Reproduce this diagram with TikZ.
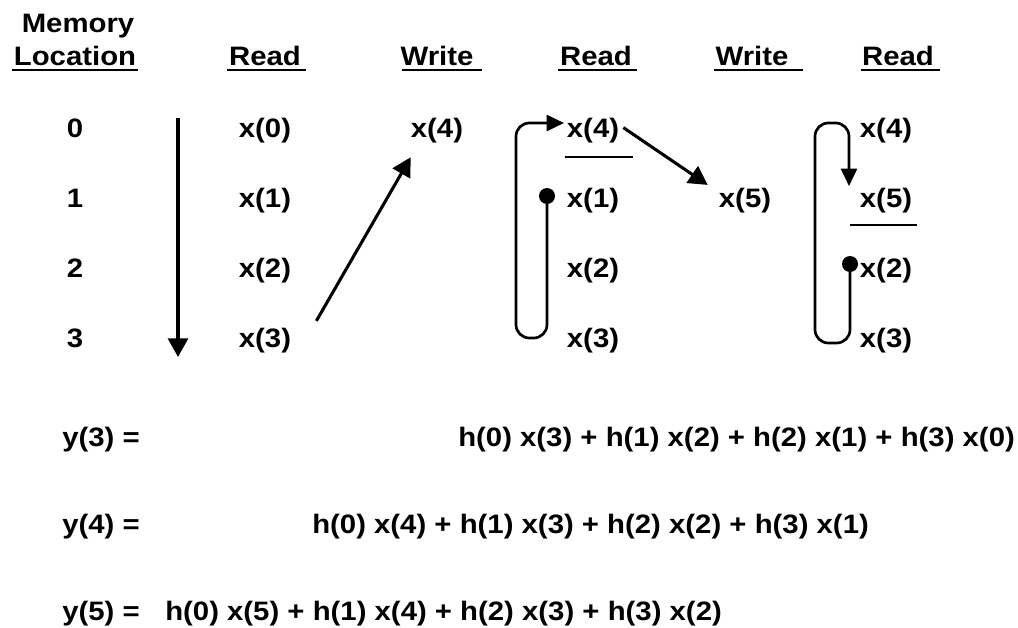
\documentclass[tikz,border=0pt]{standalone}
\usepackage{fontspec}
\setmainfont{Liberation Sans}[FakeStretch=1.1]
\usetikzlibrary{arrows.meta,calc,positioning}

\begin{document}
\begin{tikzpicture}[x=0.75pt,y=-0.75pt,
                every node/.style={inner sep=0pt,anchor=base,
                  font=\fontsize{20}{24}\selectfont\bfseries},
                eqn/.style={anchor=base west},
                uline/.style={line width=1.3pt},
                divider/.style={line width=0.8pt},
                arr/.style={line width=2.3pt,-{Triangle[length=14pt,width=15pt]}},
                wrap/.style={line width=2pt,rounded corners=10pt}
                ]
  \useasboundingbox (0,0) rectangle (1018,628);
  % column heads
  \node (hmem) at (78,32) {Memory};
  \node (hloc) at (75,65) {Location};
  \node (hra) at (265,65) {Read};
  \node (hwa) at (437,65) {Write};
  \node (hrb) at (596,65) {Read};
  \node (hwb) at (752,65) {Write};
  \node (hrc) at (898,65) {Read};
  \draw[uline] ($(hloc.base)+(-63,5)$) -- ($(hloc.base)+(63,5)$);
  \draw[uline] ($(hra.base)+(-38,5)$) -- ($(hra.base)+(41,5)$);
  \draw[uline] ($(hwa.base)+(-35,5)$) -- ($(hwa.base)+(45,5)$);
  \draw[uline] ($(hrb.base)+(-38,5)$) -- ($(hrb.base)+(41,5)$);
  \draw[uline] ($(hwb.base)+(-38,5)$) -- ($(hwb.base)+(51,5)$);
  \draw[uline] ($(hrc.base)+(-37,5)$) -- ($(hrc.base)+(42,5)$);

  % memory locations
  \node (loc0) at (75,137.5) {0};
  \node (loc1) at (75,207.5) {1};
  \node (loc2) at (75,277.5) {2};
  \node (loc3) at (75,347.5) {3};

  % first read
  \node (ra0) at (265,137.5) {x(0)};
  \node (ra1) at (265,207.5) {x(1)};
  \node (ra2) at (265,277.5) {x(2)};
  \node (ra3) at (265,347.5) {x(3)};
  \coordinate (vtop) at (178,118);
  \coordinate (vbot) at (178,357);
  \draw[arr] (vtop) -- (vbot);

  % first write
  \node (wa) at (437,137.5) {x(4)};
  \draw[arr] ($(ra3.north east)+(25,-7)$) -- ($(wa.south west)+(0,14)$);

  % second read
  \node (rb0) at (593,137.5) {x(4)};
  \node (rb1) at (593,207.5) {x(1)};
  \node (rb2) at (593,277.5) {x(2)};
  \node (rb3) at (593,347.5) {x(3)};
  \draw[divider] ($(rb0.base)+(-28,19.5)$) -- ($(rb0.base)+(40,19.5)$);
  \coordinate (dotb) at (547,196);
  \coordinate (tipb) at (564,123);
  \draw[wrap,-{Triangle[length=13pt,width=12pt]}] (dotb) -- (547,338) -- (516,338) -- (516,123) -- (tipb);
  \fill (dotb) circle (8);

  % second write
  \node (wb) at (745,207.5) {x(5)};
  \draw[arr] ($(rb0.east)+(4,-3)$) -- ($(wb.north west)+(-11,-3)$);

  % third read
  \node (rc0) at (886,137.5) {x(4)};
  \node (rc1) at (886,207.5) {x(5)};
  \node (rc2) at (886,277.5) {x(2)};
  \node (rc3) at (886,347.5) {x(3)};
  \draw[divider] ($(rc1.base)+(-36,17.5)$) -- ($(rc1.base)+(31,17.5)$);
  \coordinate (dotc) at (850,264);
  \coordinate (tipc) at (849,186);
  \draw[wrap,-{Triangle[length=13pt,width=12pt]}] (dotc) -- (850,343) -- (815,343) -- (815,123) -- (849,123) -- (tipc);
  \fill (dotc) circle (8);

  % outputs
  \node[eqn] (y3) at (62,446) {y(3) =};
  \node[eqn] (e3) at (458,446) {h(0) x(3) + h(1) x(2) + h(2) x(1) + h(3) x(0)};
  \node[eqn] (y4) at (62,533) {y(4) =};
  \node[eqn] (e4) at (312,533) {h(0) x(4) + h(1) x(3) + h(2) x(2) + h(3) x(1)};
  \node[eqn] (y5) at (62,620) {y(5) =};
  \node[eqn] (e5) at (165,620) {h(0) x(5) + h(1) x(4) + h(2) x(3) + h(3) x(2)};
\end{tikzpicture}
\end{document}
